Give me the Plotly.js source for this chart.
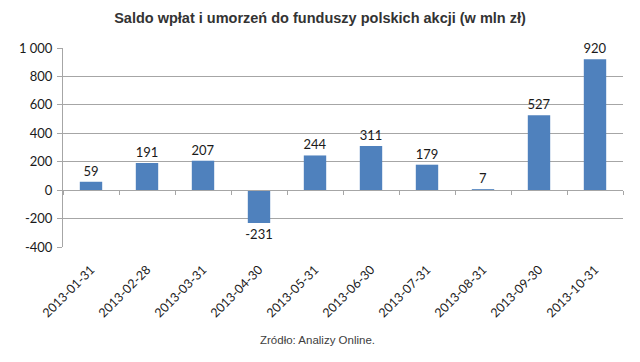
<!DOCTYPE html>
<html>
<head>
<meta charset="utf-8">
<script src="https://cdn.plot.ly/plotly-3.0.1.min.js"></script>
<style>html,body{margin:0;padding:0;background:#fff;}#chart{width:640px;height:362px;}</style>
</head>
<body>
<div id="chart"></div>
<script>
const categories = ["2013-01-31","2013-02-28","2013-03-31","2013-04-30","2013-05-31","2013-06-30","2013-07-31","2013-08-31","2013-09-30","2013-10-31"];
const values = [59, 191, 207, -231, 244, 311, 179, 7, 527, 920];
const yTickVals = [-400, -200, 0, 200, 400, 600, 800, 1000];
const yTickText = ["-400", "-200", "0", "200", "400", "600", "800", "1 000"];
const titleText = "Saldo wpłat i umorzeń do funduszy polskich akcji (w mln zł)";
const sourceText = "Zródło: Analizy Online.";

const yMin = -400, yMax = 1000;
const labelFont = "Lato, 'Open Sans', sans-serif";

const traces = [
  {
    type: "bar",
    x: categories,
    y: values,
    marker: {color: "#4F81BD"},
    text: values.map(String),
    textposition: "outside",
    constraintext: "none",
    cliponaxis: false,
    textfont: {family: labelFont, size: 13, color: "#1a1a1a"},
    hoverinfo: "none",
    xaxis: "x",
    yaxis: "y"
  },
  {
    type: "bar",
    x: categories,
    y: values.map(() => null),
    xaxis: "x2",
    yaxis: "y",
    showlegend: false,
    hoverinfo: "none"
  }
];

const layout = {
  width: 640,
  height: 362,
  margin: {l: 63, r: 17, t: 48, b: 115},
  paper_bgcolor: "#ffffff",
  plot_bgcolor: "#ffffff",
  showlegend: false,
  bargap: 0.6,
  title: {
    text: "<b>" + titleText + "</b>",
    font: {family: "'Liberation Sans', Arial, sans-serif", size: 14.5, color: "#333333"},
    x: 0.5, xanchor: "center", y: 0.95, yanchor: "middle"
  },
  xaxis: {
    type: "category",
    categoryorder: "array",
    categoryarray: categories,
    showgrid: false,
    showline: false,
    ticks: "",
    tickangle: -45,
    tickfont: {family: labelFont, size: 12.5, color: "#1a1a1a"},
    ticklabelstandoff: 12,
    zeroline: false,
    fixedrange: true
  },
  xaxis2: {
    type: "category",
    categoryorder: "array",
    categoryarray: categories,
    overlaying: "x",
    matches: "x",
    anchor: "free",
    position: (0 - yMin) / (yMax - yMin),
    side: "bottom",
    showgrid: false,
    showline: true,
    linecolor: "#a6a6a6",
    linewidth: 1,
    ticks: "outside",
    tickson: "boundaries",
    ticklen: 4,
    tickcolor: "#a6a6a6",
    showticklabels: false,
    fixedrange: true
  },
  yaxis: {
    range: [yMin, yMax],
    tickvals: yTickVals,
    ticktext: yTickText,
    showgrid: true,
    gridcolor: "#a6a6a6",
    gridwidth: 1,
    zeroline: false,
    showline: true,
    linecolor: "#a6a6a6",
    ticks: "outside",
    ticklen: 5,
    tickcolor: "#a6a6a6",
    tickfont: {family: labelFont, size: 13, color: "#1a1a1a"},
    ticklabelstandoff: 2,
    fixedrange: true
  },
  annotations: [
    {
      text: sourceText,
      xref: "paper", yref: "paper",
      x: 0.455, y: -0.467,
      xanchor: "center", yanchor: "middle",
      showarrow: false,
      font: {family: "'Liberation Sans', Arial, sans-serif", size: 11.5, color: "#404040"}
    }
  ]
};

Plotly.newPlot("chart", traces, layout, {displayModeBar: false, staticPlot: true});
</script>
</body>
</html>
